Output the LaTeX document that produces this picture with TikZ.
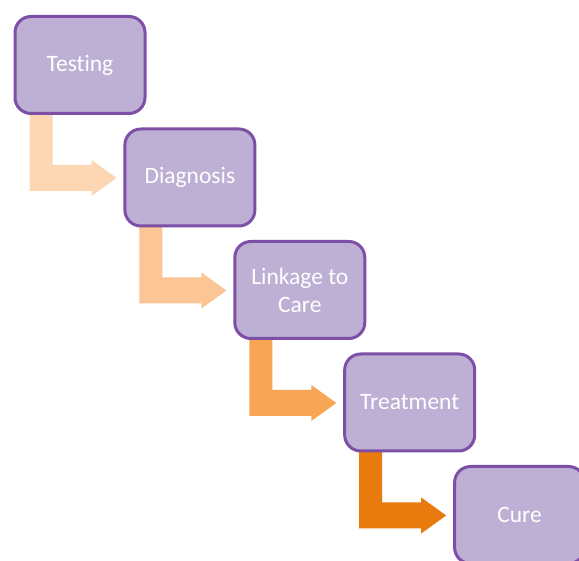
\documentclass[tikz,border=0pt]{standalone}
\usepackage{fontspec}
\setmainfont[Ligatures=NoCommon]{Carlito}
\usetikzlibrary{calc}
\pgfdeclarelayer{background}
\pgfsetlayers{background,main}
\definecolor{boxfill}{HTML}{BDB0D4}
\definecolor{boxline}{HTML}{7E4FA6}
\definecolor{arA}{HTML}{FDD6B4}
\definecolor{arB}{HTML}{FBC596}
\definecolor{arC}{HTML}{F8A556}
\definecolor{arD}{HTML}{E87A0E}
\tikzset{
  stepbox/.style={draw=boxline, line width=3pt, fill=boxfill, rounded corners=16pt,
    minimum width=130pt, minimum height=97pt, text=white, align=center,
    font=\fontsize{23.5}{28}\selectfont, inner sep=0pt},
}
\newcommand\bentarr[2]{%
  \fill[#2] ($(#1.south west)+(16,-5)$) -- ++(0,81) -- ++(62,0) -- ++(0,5)
    -- ++(25,-18) -- ++(-25,-18) -- ++(0,5) -- ++(-39,0) -- ++(0,-55) -- cycle;}
\begin{document}
\begin{tikzpicture}[x=1pt,y=-1pt]
\useasboundingbox (0,0) rectangle (579,561);
\clip (0,0) rectangle (579,561);
\node[stepbox] (t1) at (80,65) {Testing};
\node[stepbox] (t2) at (189.9,177.5) {Diagnosis};
\node[stepbox] (t3) at (299.8,290) {Linkage to\\Care};
\node[stepbox] (t4) at (409.7,402.5) {Treatment};
\node[stepbox] (t5) at (519.6,515) {Cure};
\begin{pgfonlayer}{background}
\fill[white] (0,0) rectangle (579,561);
\bentarr{t1}{arA}
\bentarr{t2}{arB}
\bentarr{t3}{arC}
\bentarr{t4}{arD}
\end{pgfonlayer}
\end{tikzpicture}
\end{document}
